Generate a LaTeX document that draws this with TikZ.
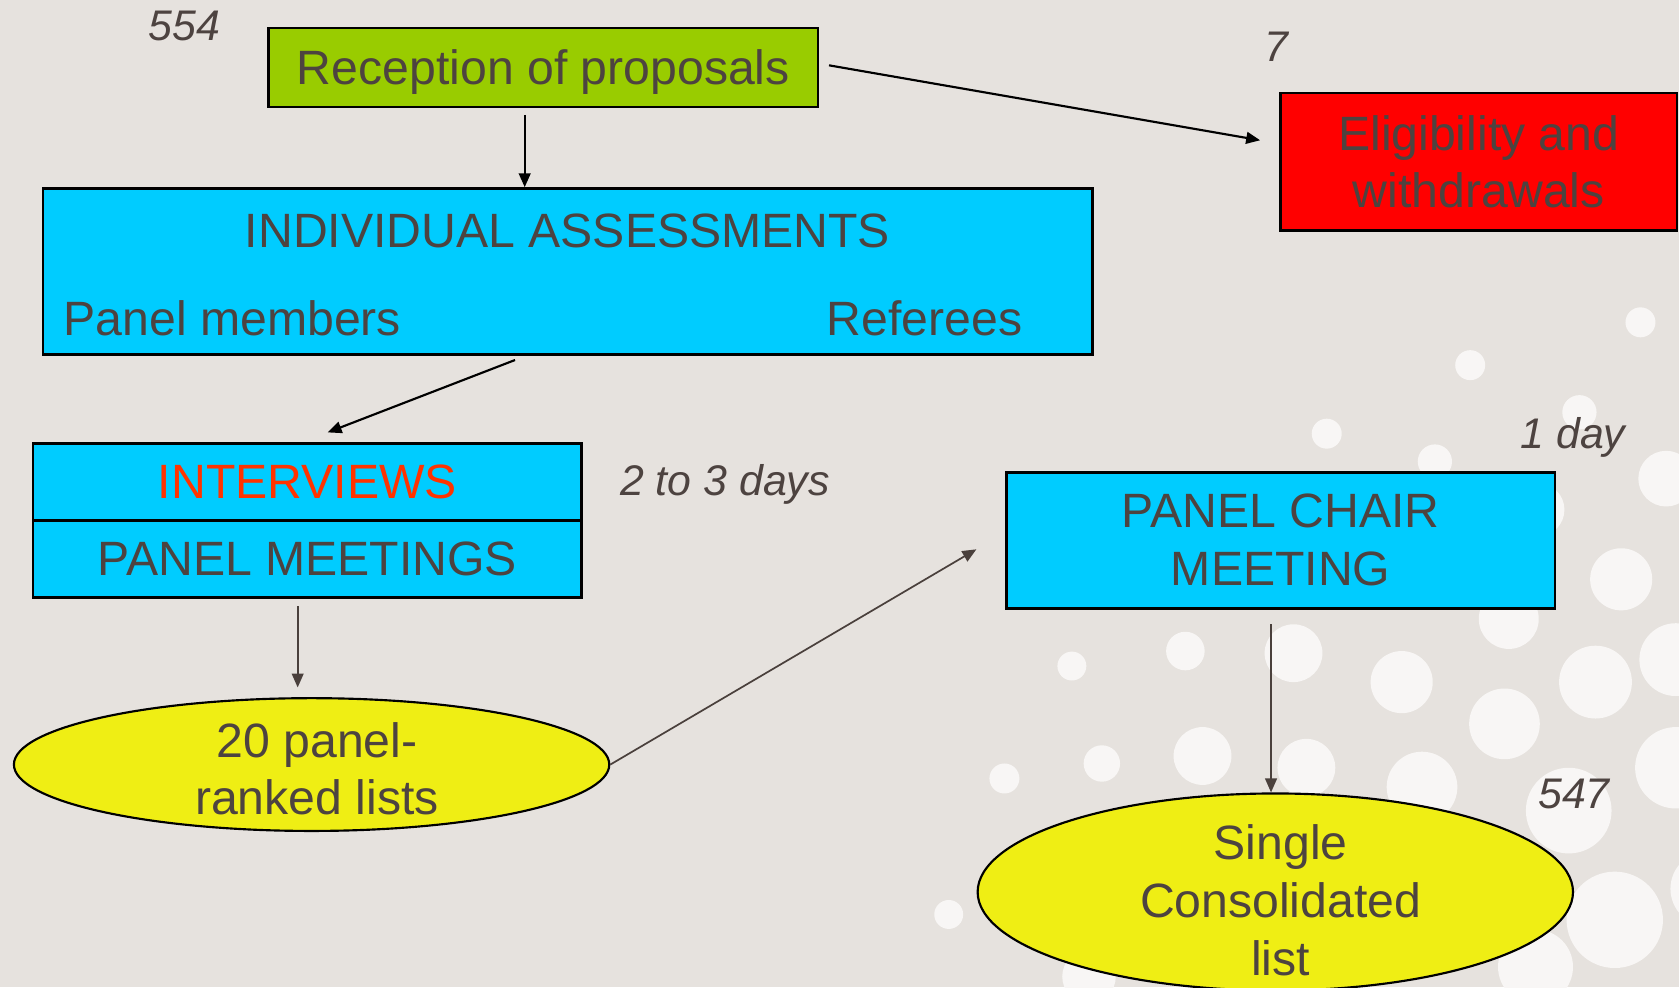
\documentclass[tikz,border=0pt]{standalone}
\usepackage{fontspec}
\setmainfont{Liberation Sans}
\usetikzlibrary{arrows.meta,shapes.geometric,calc}
\definecolor{bg}{HTML}{E6E2DE}
\definecolor{dotc}{HTML}{F8F6F5}
\definecolor{grn}{HTML}{99CC00}
\definecolor{cyn}{HTML}{00CCFF}
\definecolor{redbox}{HTML}{FF0000}
\definecolor{yel}{HTML}{EFEE14}
\definecolor{tx}{HTML}{4D4340}
\definecolor{intred}{HTML}{FF3300}
\definecolor{ln}{HTML}{4A403C}
\begin{document}
\begin{tikzpicture}[x=0.5pt,y=-0.5pt,
  txt/.style={text=tx,font=\fontsize{22.5}{27}\selectfont},
  box/.style={draw=black,line width=1.2pt,inner sep=0pt,txt,align=center},
  ell/.style={ellipse,draw=black,line width=1pt,fill=yel,inner sep=0pt},
  num/.style={text=tx,font=\fontsize{20}{24}\selectfont\itshape,inner sep=0pt},
  arrb/.style={draw=black,line width=1pt,-{Triangle[length=6.5pt,width=5.5pt]}},
  arrg/.style={draw=ln,line width=0.8pt,-{Triangle[length=6.5pt,width=5.5pt]}},
  dot/.style={fill=dotc,draw=none}]
\useasboundingbox (0,0) rectangle (1568,922);
\fill[bg] (0,0) rectangle (1568,922);
% background dots
\foreach \cx/\cy/\r in {1532/301/14,1373/341/14,1239/405/14,1475/385/16,1340/431/16,
  1556/447/26,1436/476/25,1514/541/29,1409/578/28,1208/610/27,1107/608/18,1001/622/13.5,
  1309/637/29,1490/637/34,1565/616/34,1405/676/33,1123/706/27,1029/713/17,938/727/14,
  1220/717/27,1328/735/33,1465/757/40,1565/717/38,1508/859/45,886/854/13.5,1434/903/35,
  1017/912/25,1595/830/35}
  \fill[dot] (\cx,\cy) circle [radius=\r*0.5pt];
% boxes
\node[box,fill=grn,minimum width=256.5pt,minimum height=37pt,text depth=0pt] (rec) at (507.5,63) {Reception of proposals};
\node[box,fill=redbox,minimum width=185pt,minimum height=64pt] (elig) at (1381,151) {Eligibility and\\withdrawals};
\node[box,fill=cyn,minimum width=490pt,minimum height=77.5pt] (ia) at (530,253.5) {};
\node[txt,anchor=base,inner sep=0pt] (iat) at (530,231) {INDIVIDUAL ASSESSMENTS};
\node[txt,anchor=base west,inner sep=0pt] (pm) at (59,313) {Panel members};
\node[txt,anchor=base east,inner sep=0pt] (ref) at (955,313) {Referees};
\node[box,fill=cyn,minimum width=256pt,minimum height=36pt,text=intred] (intv) at (287,450) {INTERVIEWS};
\node[box,fill=cyn,minimum width=256pt,minimum height=36pt] (pmeet) at (287,522) {PANEL MEETINGS};
\node[ell,minimum width=278pt,minimum height=62pt] (l20) at (291,714) {};
\node[txt,align=center,inner sep=0pt] (l20t) at (296,718) {20 panel-\\ranked lists};
\node[box,fill=cyn,minimum width=256pt,minimum height=63.5pt] (chair) at (1196,504.5) {PANEL CHAIR\\MEETING};
\node[ell,minimum width=278pt,minimum height=92pt] (cons) at (1191,833) {};
\node[txt,align=center,inner sep=0pt] (const) at (1196,841) {Single\\Consolidated\\list};
% numbers
\node[num,anchor=base] (n554) at (172,38) {554};
\node[num,anchor=base] (n7) at (1192,57) {7};
\node[num,anchor=base] (d23) at (677,463) {2 to 3 days};
\node[num,anchor=base] (d1) at (1469,419) {1 day};
\node[num,anchor=base] (n547) at (1470,755) {547};
% arrows
\draw[arrb] ($(rec.south)+(-17.5,6)$) -- ($(ia.north)+(-40,0)$);
\draw[arrb] ($(rec.east)+(9,-2)$) -- ($(elig.west)+(-18,-20)$);
\draw[arrb] ($(ia.south)+(-49,4)$) -- ($(intv.north)+(19,-9)$);
\draw[arrg] ($(pmeet.south)+(-9,7)$) -- ($(l20.north)+(-13,-9)$);
\draw[arrg] (l20.east) -- ($(chair.west)+(-27,8.5)$);
\draw[arrg] ($(chair.south)+(-9,14)$) -- ($(cons.north)+(-4,0)$);
\end{tikzpicture}
\end{document}
